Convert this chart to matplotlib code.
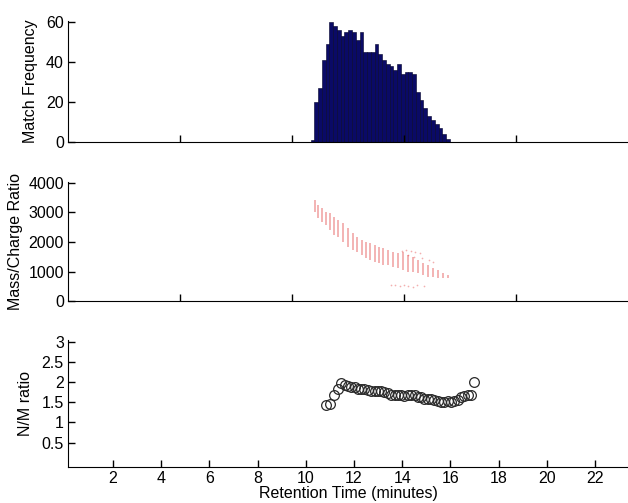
import numpy as np
import matplotlib.pyplot as plt

plt.rcParams['font.family'] = ['Liberation Sans', 'DejaVu Sans']
plt.rcParams['font.size'] = 11.5

# Top panel: match frequency histogram
hist_start = 10.83
hist_width = 0.168
match_freq = [1, 20, 27, 41, 49, 60, 58, 56, 53, 55, 56, 55, 51, 55, 45, 45, 45,
              49, 44, 41, 39, 38, 36, 39, 34, 35, 35, 34, 25, 21, 17, 13, 11, 9,
              7, 4, 1.5]

# Middle panel: m/z stripes per retention time
stripe_time = [11.03, 11.17, 11.32, 11.52, 11.70, 11.89, 12.07, 12.29, 12.51, 12.74,
               12.89, 13.11, 13.30, 13.48, 13.71, 13.90, 14.08, 14.30, 14.52, 14.75,
               14.97, 15.19, 15.42, 15.64, 15.86, 16.09, 16.31, 16.53, 16.76, 16.98]
mz_high = [3418, 3249, 3137, 3025, 2969, 2856, 2744, 2632, 2464, 2295,
           2183, 2071, 2015, 1959, 1902, 1846, 1790, 1734, 1678, 1622,
           1678, 1566, 1510, 1397, 1285, 1229, 1117, 1061, 971, 892]
mz_low = [3025, 2800, 2688, 2576, 2407, 2239, 2183, 2015, 1846, 1734,
          1678, 1566, 1453, 1397, 1341, 1285, 1229, 1229, 1173, 1117,
          1061, 1004, 1004, 948, 892, 836, 836, 802, 780, 780]
extra_time = [14.9, 15.1, 15.3, 15.5, 15.7, 15.2, 15.45, 15.8, 16.1, 16.3,
              14.4, 14.6, 14.8, 15.0, 15.2, 15.4, 15.6, 15.9]
extra_mz = [1700, 1720, 1690, 1660, 1640, 1560, 1500, 1450, 1380, 1330,
            560, 540, 520, 560, 530, 500, 540, 520]

# Bottom panel: N/M ratio
nm_time = [10.82, 10.99, 11.16, 11.33, 11.47, 11.61, 11.74, 11.88, 12.02, 12.16,
           12.30, 12.43, 12.57, 12.71, 12.85, 12.99, 13.12, 13.26, 13.40, 13.54,
           13.68, 13.81, 13.95, 14.09, 14.23, 14.37, 14.51, 14.64, 14.78, 14.92,
           15.06, 15.20, 15.33, 15.47, 15.61, 15.75, 15.89, 16.02, 16.16, 16.30,
           16.44, 16.58, 16.71, 16.85, 16.99]
nm_ratio = [1.44, 1.47, 1.68, 1.84, 1.97, 1.93, 1.90, 1.88, 1.87, 1.84,
            1.83, 1.82, 1.80, 1.78, 1.78, 1.78, 1.77, 1.76, 1.72, 1.69,
            1.68, 1.68, 1.67, 1.65, 1.68, 1.69, 1.68, 1.63, 1.62, 1.59,
            1.58, 1.58, 1.55, 1.53, 1.51, 1.51, 1.53, 1.51, 1.53, 1.57,
            1.63, 1.65, 1.68, 1.68, 2.01]

fig = plt.figure(figsize=(6.28, 5.03), dpi=100)
ax1 = fig.add_axes([0.1083, 0.7177, 0.8917, 0.2412])
ax2 = fig.add_axes([0.1083, 0.4006, 0.8917, 0.2382])
ax3 = fig.add_axes([0.1083, 0.0722, 0.8917, 0.2519])

edges = hist_start + hist_width * np.arange(len(match_freq))
ax1.bar(edges, match_freq, width=hist_width, align='edge',
        color='#0a0a66', edgecolor='#000028', linewidth=0.4)
ax1.set_ylim(0, 60.7)
ax1.set_yticks([0, 20, 40, 60])
ax1.set_ylabel('Match Frequency', labelpad=6)

ax2.vlines(stripe_time, mz_low, mz_high, colors='#e03c3c', alpha=0.45,
           linewidth=1.2)
ax2.scatter(extra_time, extra_mz, s=1.5, color='#e86060', alpha=0.5, linewidths=0)
ax2.set_ylim(0, 4030)
ax2.set_yticks([0, 1000, 2000, 3000, 4000])
ax2.set_ylabel('Mass/Charge Ratio')

for ax in (ax1, ax2):
    ax.set_xlim(0, 25)
    ax.set_xticks([5, 10, 15, 20])
    ax.set_xticklabels([])

ax3.plot(nm_time, nm_ratio, linestyle='none', marker='o', markersize=7,
         markerfacecolor='none', markeredgecolor='#2a2a2a', markeredgewidth=0.9)
ax3.set_xlim(0.13, 23.37)
ax3.set_xticks(range(2, 23, 2))
ax3.set_ylim(-0.1, 3.05)
ax3.set_yticks([0.5, 1, 1.5, 2, 2.5, 3])
ax3.set_yticklabels(['0.5', '1', '1.5', '2', '2.5', '3'])
ax3.set_ylabel('N/M ratio', labelpad=6)
ax3.set_xlabel('Retention Time (minutes)', labelpad=0)

for ax in (ax1, ax2, ax3):
    ax.spines['top'].set_visible(False)
    ax.spines['right'].set_visible(False)
    ax.tick_params(direction='in', length=5, width=1, top=False, right=False, pad=3)

fig.savefig('out.png', dpi=100)
